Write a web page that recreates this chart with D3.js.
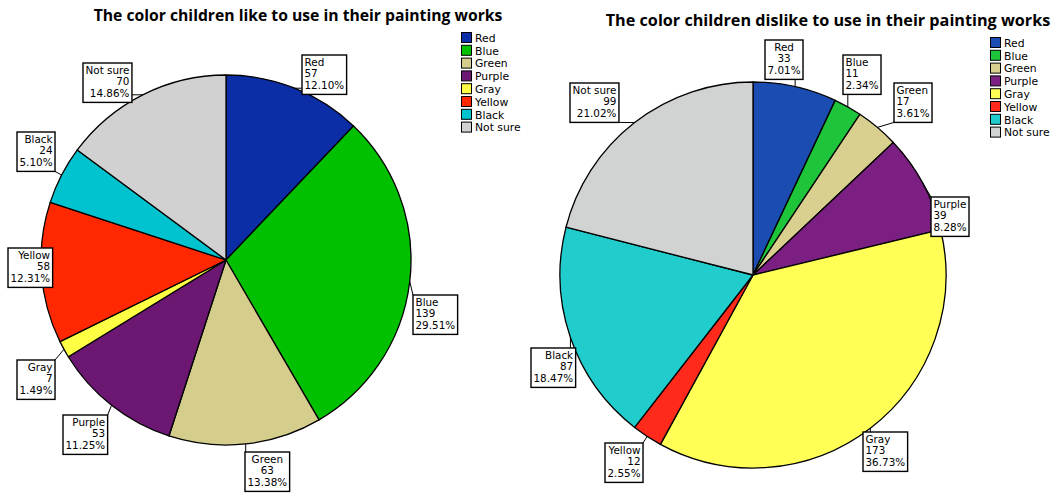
<!DOCTYPE html>
<html>
<head>
<meta charset="utf-8">
<script src="https://cdn.jsdelivr.net/npm/d3@7"></script>
<style>
  html, body { margin: 0; padding: 0; background: #fff; }
  svg { display: block; }
</style>
</head>
<body>
<svg id="chart" width="1060" height="494"></svg>
<script>
// ---- data ----
const categories = ["Red", "Blue", "Green", "Purple", "Gray", "Yellow", "Black", "Not sure"];
const likeValues = [57, 139, 63, 53, 7, 58, 24, 70];
const dislikeValues = [33, 11, 17, 39, 173, 12, 87, 99];
const likeTitle = "The color children like to use in their painting works";
const dislikeTitle = "The color children dislike to use in their painting works";

// ---- styles / layout ----
const likeColors = ["#0b2ea6", "#00c000", "#d4cd8c", "#6c1772", "#ffff44", "#ff2800", "#00c3cf", "#d1d1d1"];
const dislikeColors = ["#1a4cb2", "#1ec43a", "#d9d090", "#7b1f82", "#ffff55", "#ff2a1c", "#20cccc", "#d1d3d3"];

const likeLayout = {
  cx: 226, cy: 260, r: 185,
  title: { cx: 298, baseline: 21, width: 409 },
  legend: { x: 461, y: 32 },
  boxes: [
    { x: 302, y: 55, align: "start" },
    { x: 413, y: 295, align: "start" },
    { x: 245, y: 452, align: "middle" },
    { x: 63, y: 415, align: "end" },
    { x: 17, y: 360, align: "end" },
    { x: 8, y: 248, align: "end" },
    { x: 17, y: 132, align: "end" },
    { x: 83, y: 63, align: "end" }
  ]
};
const dislikeLayout = {
  cx: 753, cy: 275, r: 193,
  title: { cx: 828, baseline: 26, width: 445 },
  legend: { x: 990, y: 37 },
  boxes: [
    { x: 765, y: 40, align: "middle" },
    { x: 843, y: 55, align: "start" },
    { x: 894, y: 83, align: "start" },
    { x: 931, y: 197, align: "start" },
    { x: 863, y: 432, align: "start" },
    { x: 605, y: 443, align: "end" },
    { x: 531, y: 348, align: "end" },
    { x: 570, y: 83, align: "end" }
  ]
};

const svg = d3.select("#chart");

function drawPie(values, colors, title, L) {
  const g = svg.append("g");
  const total = d3.sum(values);
  const data = categories.map((c, i) => ({ cat: c, value: values[i], color: colors[i], box: L.boxes[i] }));
  const pie = d3.pie().value(d => d.value).sort(null);
  const arcs = pie(data);
  const arc = d3.arc().innerRadius(0).outerRadius(L.r);

  // title
  const t = g.append("text")
    .attr("x", L.title.cx).attr("y", L.title.baseline)
    .attr("text-anchor", "middle")
    .attr("font-family", "'Open Sans', 'DejaVu Sans', sans-serif")
    .attr("font-weight", "bold")
    .attr("font-size", 16)
    .attr("fill", "#000")
    .text(title);
  const w = t.node().getComputedTextLength();
  t.attr("font-size", 16 * L.title.width / w);

  // slices
  const pg = g.append("g").attr("transform", `translate(${L.cx},${L.cy})`);
  pg.selectAll("path").data(arcs).enter().append("path")
    .attr("d", arc)
    .attr("fill", d => d.data.color)
    .attr("stroke", "#000")
    .attr("stroke-width", 1.3)
    .attr("stroke-linejoin", "round");

  // labels
  const lineH = 11.8;
  arcs.forEach(a => {
    const b = a.data.box;
    const lines = [a.data.cat, String(a.data.value), (a.data.value / total * 100).toFixed(2) + "%"];
    const lg = g.append("g");
    const tx = lg.append("text")
      .attr("font-family", "'DejaVu Sans', sans-serif")
      .attr("font-size", 10.4)
      .attr("fill", "#000");
    lines.forEach((s, k) => {
      tx.append("tspan").attr("dy", k === 0 ? 0 : lineH).text(s);
    });
    const widths = [];
    tx.selectAll("tspan").each(function () { widths.push(this.getComputedTextLength()); });
    const maxW = d3.max(widths);
    const pad = 2.5;
    const bw = maxW + pad * 2;
    const bh = lineH * 3 + 4;
    let ax;
    if (b.align === "start") ax = b.x + pad;
    else if (b.align === "end") ax = b.x + bw - pad;
    else ax = b.x + bw / 2;
    tx.attr("text-anchor", b.align);
    tx.selectAll("tspan").attr("x", ax);
    tx.attr("y", b.y + 10.5);

    // leader line: from arc mid-angle point to nearest point on box
    const mid = (a.startAngle + a.endAngle) / 2;
    const px = L.cx + L.r * Math.sin(mid);
    const py = L.cy - L.r * Math.cos(mid);
    const qx = Math.max(b.x, Math.min(b.x + bw, px));
    const qy = Math.max(b.y, Math.min(b.y + bh, py));
    lg.insert("line", "text")
      .attr("x1", px).attr("y1", py).attr("x2", qx).attr("y2", qy)
      .attr("stroke", "#000").attr("stroke-width", 1);
    lg.insert("rect", "text")
      .attr("x", b.x).attr("y", b.y).attr("width", bw).attr("height", bh)
      .attr("fill", "#fff").attr("stroke", "#000").attr("stroke-width", 1.4);
  });

  // legend
  const leg = g.append("g").attr("transform", `translate(${L.legend.x},${L.legend.y})`);
  data.forEach((d, i) => {
    const row = leg.append("g").attr("transform", `translate(0,${i * 12.8})`);
    row.append("rect").attr("x", 0.5).attr("y", 0.5).attr("width", 10).attr("height", 10)
      .attr("fill", d.color).attr("stroke", "#000").attr("stroke-width", 1);
    row.append("text").attr("x", 14).attr("y", 9.8)
      .attr("font-family", "'DejaVu Sans', sans-serif")
      .attr("font-size", 10.8)
      .attr("fill", "#000")
      .text(d.cat);
  });
}

drawPie(likeValues, likeColors, likeTitle, likeLayout);
drawPie(dislikeValues, dislikeColors, dislikeTitle, dislikeLayout);
</script>
</body>
</html>
